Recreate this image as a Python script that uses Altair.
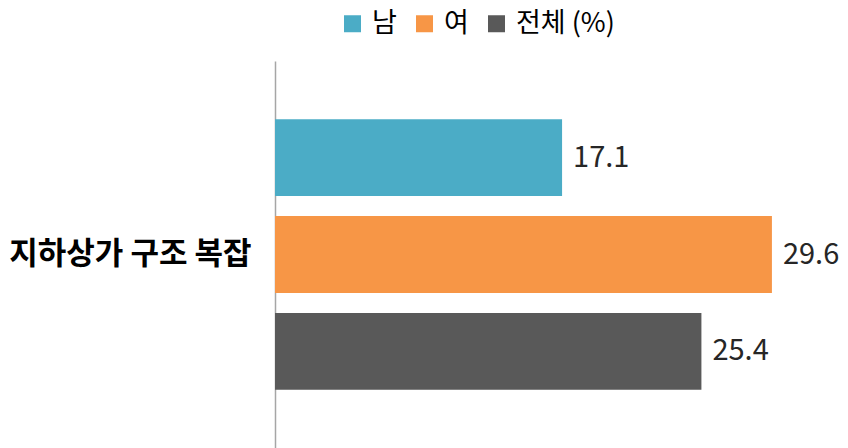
import altair as alt
import pandas as pd

category = ["지하상가 구조 복잡"]
series = ["남", "여", "전체"]
values = [17.1, 29.6, 25.4]
colors = ["#4BACC6", "#F79646", "#595959"]

df = pd.DataFrame({
    "category": category * len(series),
    "series": series,
    "value": values,
})

FONT = "Noto Sans CJK KR"

base = alt.Chart(df).encode(
    y=alt.Y("category:N", title=None,
            scale=alt.Scale(paddingInner=0, paddingOuter=0),
            axis=alt.Axis(labelFont=FONT, labelFontSize=31, labelFontWeight="bold",
                          labelColor="#000000", labelPadding=24, ticks=False, labelLimit=400,
                          domainColor="#A6A6A6", domainWidth=1.5)),
    yOffset=alt.YOffset("series:N", sort=series,
                        scale=alt.Scale(paddingInner=0.206, paddingOuter=0.6)),
    x=alt.X("value:Q", title=None, scale=alt.Scale(domain=[0, 33]),
            axis=None),
)

bars = base.mark_bar().encode(
    color=alt.Color("series:N", sort=series,
                    scale=alt.Scale(domain=series, range=colors),
                    legend=alt.Legend(title=None, orient="none", direction="horizontal",
                                      legendX=64, legendY=-51,
                                      labelFont=FONT, labelFontSize=27, labelColor="#000000",
                                      symbolType="square", symbolSize=289, symbolStrokeWidth=0,
                                      labelOffset=6, columnPadding=14, labelLimit=300,
                                      labelExpr="datum.label == '전체' ? '전체 (%)' : datum.label")),
)

labels = base.mark_text(align="left", dx=11, font=FONT, fontSize=29, color="#262626").encode(
    text=alt.Text("value:Q", format=".1f"),
)

chart = (bars + labels).properties(
    width=554, height=387,
    padding={"left": 275, "top": 61, "right": 19, "bottom": 0},
    autosize=alt.AutoSizeParams(type="none"),
).configure_view(stroke=None)

chart.save("out.html", embed_options={"renderer": "svg", "actions": False})
